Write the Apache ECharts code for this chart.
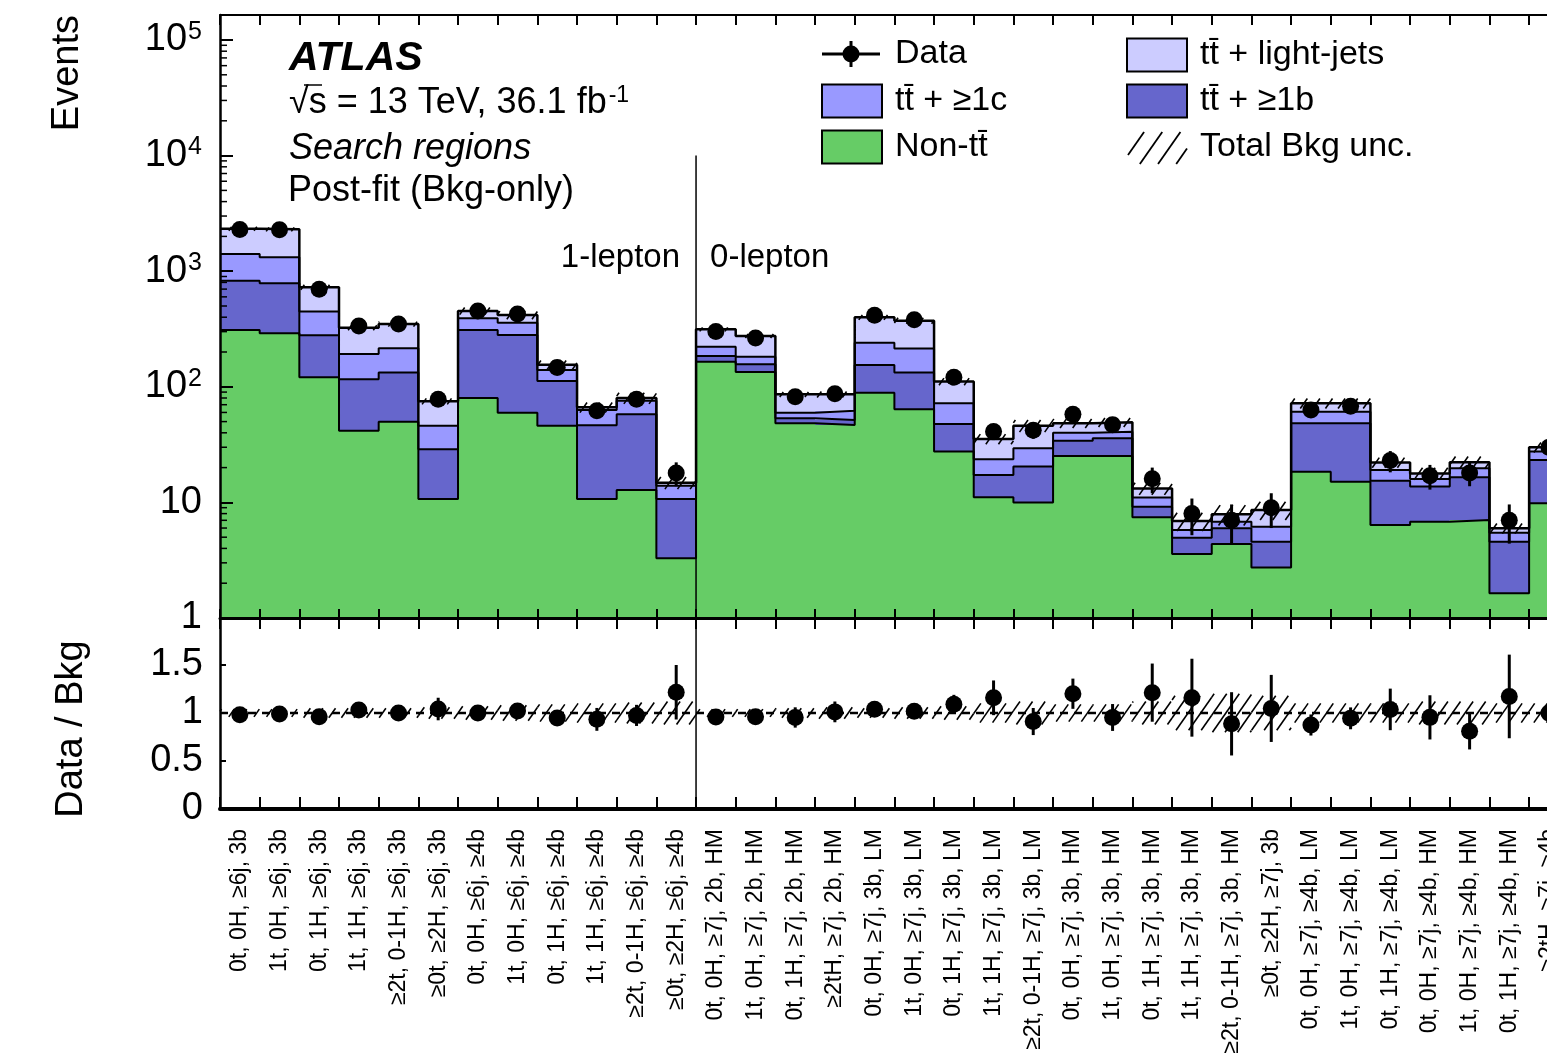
<!DOCTYPE html>
<html>
<head>
<meta charset="utf-8">
<script src="https://cdn.jsdelivr.net/npm/echarts@6/dist/echarts.min.js"></script>
<style>
  html, body { margin: 0; padding: 0; background: #ffffff; }
  #chart { width: 1547px; height: 1060px; }
</style>
</head>
<body>
<div id="chart"></div>
<script>
// ---------------- data ----------------
const regions1L = [
  '0t, 0H, \u22656j, 3b', '1t, 0H, \u22656j, 3b', '0t, 1H, \u22656j, 3b', '1t, 1H, \u22656j, 3b',
  '\u22652t, 0-1H, \u22656j, 3b', '\u22650t, \u22652H, \u22656j, 3b',
  '0t, 0H, \u22656j, \u22654b', '1t, 0H, \u22656j, \u22654b', '0t, 1H, \u22656j, \u22654b', '1t, 1H, \u22656j, \u22654b',
  '\u22652t, 0-1H, \u22656j, \u22654b', '\u22650t, \u22652H, \u22656j, \u22654b'
];
const regions0L = [
  '0t, 0H, \u22657j, 2b, HM', '1t, 0H, \u22657j, 2b, HM', '0t, 1H, \u22657j, 2b, HM', '\u22652tH, \u22657j, 2b, HM',
  '0t, 0H, \u22657j, 3b, LM', '1t, 0H, \u22657j, 3b, LM', '0t, 1H, \u22657j, 3b, LM', '1t, 1H, \u22657j, 3b, LM',
  '\u22652t, 0-1H, \u22657j, 3b, LM', '0t, 0H, \u22657j, 3b, HM', '1t, 0H, \u22657j, 3b, HM', '0t, 1H, \u22657j, 3b, HM',
  '1t, 1H, \u22657j, 3b, HM', '\u22652t, 0-1H, \u22657j, 3b, HM', '\u22650t, \u22652H, \u22657j, 3b',
  '0t, 0H, \u22657j, \u22654b, LM', '1t, 0H, \u22657j, \u22654b, LM', '0t, 1H, \u22657j, \u22654b, LM',
  '0t, 0H, \u22657j, \u22654b, HM', '1t, 0H, \u22657j, \u22654b, HM', '0t, 1H, \u22657j, \u22654b, HM',
  '\u22652tH, \u22657j, \u22654b'
];
const regions = regions1L.concat(regions0L);

// post-fit background yields per region (events)
const nonTtbar = [310, 290, 121, 41.7, 49.9, 10.7, 80, 59.7, 46.1, 10.7, 12.8, 3.28,
                  165, 134, 48.3, 46.7, 89, 63.9, 27.5, 11.1, 10.0, 25.2, 25.2, 7.43, 3.58, 4.37, 2.74, 18.4, 15.1, 6.37, 6.81, 7.04, 1.64, 9.82];
const ttB      = [518, 496, 158, 74.3, 83.1, 18.1, 230, 221, 65.9, 35.8, 45.0, 7.42,
                  20, 23, 5.1, 4.9, 65, 69, 20.2, 6.2, 10.4, 9.0, 10.6, 1.75, 1.37, 1.60, 1.83, 29.9, 33.2, 9.0, 6.9, 9.5, 2.93, 13.5];
const ttC      = [581, 532, 168, 76, 82, 17.3, 81, 78, 28, 16.5, 18, 3.2,
                  37, 25, 6.3, 10.4, 87, 82, 24.3, 6.3, 9.0, 5.9, 5.1, 1.82, 0.82, 0.84, 1.59, 12.6, 12.6, 3.7, 2.2, 3.2, 0.9, 4.2];
const ttLight  = [924, 985, 279, 133, 134, 28.8, 62, 59, 15, 3.4, 4.2, 0.9,
                  92, 93, 26.3, 24, 158, 158, 39, 11.8, 16.7, 8.2, 8.4, 2.2, 1.13, 1.08, 2.43, 11.1, 11.1, 3.1, 1.9, 2.5, 0.5, 2.5];
// relative total background uncertainty
const bkgRelUnc = [0.04, 0.04, 0.05, 0.05, 0.05, 0.06, 0.07, 0.08, 0.09, 0.10, 0.11, 0.12,
                   0.04, 0.04, 0.05, 0.06, 0.05, 0.06, 0.07, 0.10, 0.12, 0.09, 0.09, 0.12, 0.18, 0.20, 0.18, 0.10, 0.10, 0.10, 0.12, 0.12, 0.10, 0.10];
// observed events and their uncertainties
const dataObs = [2290, 2280, 697, 335, 349, 78, 453, 426, 147, 62, 78, 18,
                 301, 264, 82, 87, 415, 380, 121, 41, 42, 58, 47, 16, 8, 7, 9, 63, 68, 23, 17, 18, 7, 30];
const dataErr = [48, 48, 26, 18, 19, 8.8, 21, 21, 12, 7.9, 8.8, 4.2,
                 17, 16, 9.1, 9.3, 20, 19, 11, 6.4, 6.5, 7.6, 6.9, 4.0, 2.8, 2.6, 3.0, 7.9, 8.2, 4.8, 4.1, 4.2, 2.6, 5.5];
const ratioTicks = [0, 0.5, 1, 1.5];

// ---------------- layout ----------------
const FONT = '"Liberation Sans", Arial, Helvetica, sans-serif';
const NB = regions.length;
const BIN = 39.67;
const LEFT = 220;
const TOP_MAIN = 15, H_MAIN = 603;
const TOP_RATIO = 619, H_RATIO = 190;
const DECADE_PX = 115.6;
const YMAX = Math.pow(10, H_MAIN / DECADE_PX);
const RMAX = H_RATIO / 96;
const nSplit = regions1L.length;
const AXIS_FONT = 38;
const TEXT_FONT = 36;

const colNon = '#66cc66', colB = '#6666cc', colC = '#9999ff', colL = '#ccccff';

// cumulative stack boundaries
const cum1 = nonTtbar.slice();
const cum2 = cum1.map((v, i) => v + ttB[i]);
const cum3 = cum2.map((v, i) => v + ttC[i]);
const total = cum3.map((v, i) => v + ttLight[i]);
const ones = total.map(() => 1);

// ---------------- helpers ----------------
function hatchSegments(x0, y0, x1, y1, gap, slope) {
  // lines  y = c - slope * x  (rising to the right)
  const segs = [];
  const cMin = y0 + slope * x0, cMax = y1 + slope * x1;
  for (let c = Math.ceil(cMin / gap) * gap; c <= cMax; c += gap) {
    const xa = Math.max(x0, (c - y1) / slope);
    const xb = Math.min(x1, (c - y0) / slope);
    if (xb <= xa) continue;
    segs.push([xa, c - slope * xa, xb, c - slope * xb]);
  }
  return segs;
}
function hatchGroup(segs, width) {
  return {
    type: 'group',
    children: segs.map(s => ({
      type: 'line',
      shape: { x1: s[0], y1: s[1], x2: s[2], y2: s[3] },
      style: { stroke: '#000', lineWidth: width }
    }))
  };
}

function layerSeries(lower, upper, color, name) {
  return {
    type: 'custom', name: name, xAxisIndex: 0, yAxisIndex: 0, z: 2,
    data: [[0, 1]], encode: { x: 0, y: 1 }, silent: true,
    renderItem: function (params, api) {
      const pts = [];
      for (let i = 0; i < NB; i++) {
        pts.push(api.coord([i, upper[i]]), api.coord([i + 1, upper[i]]));
      }
      for (let i = NB - 1; i >= 0; i--) {
        pts.push(api.coord([i + 1, lower[i]]), api.coord([i, lower[i]]));
      }
      return { type: 'polygon', shape: { points: pts }, style: { fill: color, stroke: null } };
    }
  };
}

function stepPoints(vals) {
  const pts = [];
  vals.forEach((v, i) => { pts.push([i, v]); pts.push([i + 1, v]); });
  return pts;
}
function outlineSeries(vals, width) {
  return {
    type: 'line', xAxisIndex: 0, yAxisIndex: 0, z: 3, silent: true,
    data: stepPoints(vals), symbol: 'none', animation: false,
    lineStyle: { color: '#000', width: width }
  };
}

function errorBarSeries(xIdx, yIdx, items) {
  return {
    type: 'custom', xAxisIndex: xIdx, yAxisIndex: yIdx, z: 6, silent: true,
    data: items, encode: { x: 0, y: [1, 2] },
    renderItem: function (params, api) {
      const a = api.coord([api.value(0), api.value(1)]);
      const b = api.coord([api.value(0), api.value(2)]);
      return { type: 'line', shape: { x1: a[0], y1: a[1], x2: b[0], y2: b[1] }, style: { stroke: '#000', lineWidth: 3 } };
    }
  };
}

function bandHatchSeries(xIdx, yIdx, items) {
  return {
    type: 'custom', xAxisIndex: xIdx, yAxisIndex: yIdx, z: 4, silent: true,
    data: items, encode: { x: 0, y: [1, 2] },
    renderItem: function (params, api) {
      const i = api.value(0);
      const p0 = api.coord([i, api.value(2)]);
      const p1 = api.coord([i + 1, api.value(1)]);
      return hatchGroup(hatchSegments(p0[0], p0[1], p1[0], p1[1], 18, 1.43), 1.6);
    }
  };
}

function markerSeries(xIdx, yIdx, items) {
  return {
    type: 'scatter', xAxisIndex: xIdx, yAxisIndex: yIdx, z: 7, silent: true,
    symbol: 'circle', symbolSize: 17, itemStyle: { color: '#000', opacity: 1 },
    data: items
  };
}

// log-axis minor tick values (2..9 x 10^k)
const minorTicks = [];
for (let k = 0; k <= 5; k++) {
  for (let m = 2; m <= 9; m++) {
    const v = m * Math.pow(10, k);
    if (v < YMAX) minorTicks.push([0, v]);
  }
}

// ---------------- option ----------------
const valueX = (grid, pos, lineW, tickLen) => ({
  gridIndex: grid, type: 'value', min: 0, max: NB, interval: 1, position: pos, z: 10,
  axisLine: { show: true, onZero: false, lineStyle: { color: '#000', width: lineW } },
  axisTick: { show: true, inside: true, length: tickLen, lineStyle: { color: '#000', width: 2 } },
  axisLabel: { show: false }, splitLine: { show: false }
});

const option = {
  animation: false,
  backgroundColor: '#ffffff',
  grid: [
    { left: LEFT, top: TOP_MAIN, width: NB * BIN, height: H_MAIN, containLabel: false, outerBoundsMode: 'none' },
    { left: LEFT, top: TOP_RATIO, width: NB * BIN, height: H_RATIO, containLabel: false, outerBoundsMode: 'none' }
  ],
  xAxis: [
    valueX(0, 'bottom', 3, 9),
    valueX(0, 'top', 2, 10),
    valueX(1, 'bottom', 4, 12),
    valueX(1, 'top', 2, 10),
    {
      gridIndex: 1, type: 'category', data: regions, position: 'bottom', z: 10,
      axisLine: { show: false }, axisTick: { show: false }, splitLine: { show: false },
      axisLabel: { interval: 0, rotate: 90, margin: 20, fontSize: 23, color: '#000', fontFamily: FONT }
    }
  ],
  yAxis: [
    {
      gridIndex: 0, type: 'log', logBase: 10, min: 1, max: YMAX, position: 'left', z: 10,
      axisLine: { show: true, lineStyle: { color: '#000', width: 2.5 } },
      axisTick: { show: true, inside: true, length: 13, lineStyle: { color: '#000', width: 2 } },
      splitLine: { show: false },
      axisLabel: {
        margin: 18, showMaxLabel: false, color: '#000', fontSize: AXIS_FONT, fontFamily: FONT,
        formatter: function (v) {
          const p = Math.round(Math.log10(v));
          if (Math.abs(Math.log10(v) - p) > 1e-6) return '';
          if (p === 0) return '1';
          if (p === 1) return '10';
          return '10{s|' + p + '}';
        },
        rich: { s: { fontSize: 25, fontFamily: FONT, color: '#000', verticalAlign: 'top', padding: [0, 0, 16, 1] } }
      }
    },
    {
      gridIndex: 1, type: 'value', min: 0, max: RMAX, interval: 0.5, position: 'left', z: 10,
      axisLine: { show: true, onZero: false, lineStyle: { color: '#000', width: 2.5 } },
      axisTick: { show: true, inside: true, length: 6, lineStyle: { color: '#000', width: 2 } },
      splitLine: { show: false },
      axisLabel: {
        margin: 17, showMaxLabel: false, color: '#000', fontSize: AXIS_FONT, fontFamily: FONT,
        formatter: v => (ratioTicks.indexOf(v) >= 0 ? String(v) : '')
      }
    }
  ],
  series: [
    // stacked background fills
    layerSeries(ones, cum1, colNon, 'Non-ttbar'),
    layerSeries(cum1, cum2, colB, 'tt+>=1b'),
    layerSeries(cum2, cum3, colC, 'tt+>=1c'),
    layerSeries(cum3, total, colL, 'tt+light'),
    // histogram outlines
    outlineSeries(cum1, 2),
    outlineSeries(cum2, 2),
    outlineSeries(cum3, 2),
    outlineSeries(total, 2.5),
    // background uncertainty around the total
    bandHatchSeries(0, 0, total.map((t, i) => [i, t * (1 - bkgRelUnc[i]), t * (1 + bkgRelUnc[i])])),
    // channel divider
    {
      type: 'line', xAxisIndex: 0, yAxisIndex: 0, z: 5, silent: true, symbol: 'none',
      data: [[nSplit, 1e4], [nSplit, 1]], lineStyle: { color: '#000', width: 1.5 }
    },
    // log minor ticks
    {
      type: 'custom', xAxisIndex: 0, yAxisIndex: 0, z: 11, silent: true,
      data: minorTicks, encode: { x: 0, y: 1 },
      renderItem: function (params, api) {
        const p = api.coord([api.value(0), api.value(1)]);
        return { type: 'line', shape: { x1: p[0], y1: p[1], x2: p[0] + 7, y2: p[1] }, style: { stroke: '#000', lineWidth: 1.5 } };
      }
    },
    // data
    errorBarSeries(0, 0, dataObs.map((d, i) => [i + 0.5, d - dataErr[i], d + dataErr[i]])),
    markerSeries(0, 0, dataObs.map((d, i) => [i + 0.5, d])),

    // ----- ratio panel -----
    bandHatchSeries(2, 1, bkgRelUnc.map((u, i) => [i, 1 - u, 1 + u])),
    {
      type: 'line', xAxisIndex: 2, yAxisIndex: 1, z: 3, silent: true, symbol: 'none',
      data: [[0, 1], [NB, 1]], lineStyle: { color: '#000', width: 2.5, type: [8, 6] }
    },
    {
      type: 'line', xAxisIndex: 2, yAxisIndex: 1, z: 5, silent: true, symbol: 'none',
      data: [[nSplit, 0], [nSplit, RMAX]], lineStyle: { color: '#000', width: 1.5 }
    },
    errorBarSeries(2, 1, dataObs.map((d, i) => [i + 0.5, (d - dataErr[i]) / total[i], (d + dataErr[i]) / total[i]])),
    markerSeries(2, 1, dataObs.map((d, i) => [i + 0.5, d / total[i]]))
  ]
};

// ---------------- annotations and legend ----------------
const txt = (x, y, text, extra) => Object.assign({
  type: 'text', x: x, y: y, z: 100, silent: true,
  style: Object.assign({ text: text, fill: '#000', fontSize: 34, fontFamily: FONT, align: 'left', verticalAlign: 'middle' }, extra || {})
});
const divX = LEFT + nSplit * BIN;

const legendBoxes = [
  { x: 822, y: 101, color: colC, label: 'tt\u0304 + \u22651c' },
  { x: 822, y: 147, color: colNon, label: 'Non-tt\u0304' },
  { x: 1127, y: 55, color: colL, label: 'tt\u0304 + light-jets' },
  { x: 1127, y: 101, color: colB, label: 'tt\u0304 + \u22651b' }
];

const graphics = [
  // axis titles
  Object.assign(txt(68, 15, 'Events', { align: 'right', fontSize: AXIS_FONT }), { rotation: Math.PI / 2 }),
  Object.assign(txt(72, 729, 'Data / Bkg', { align: 'center', fontSize: AXIS_FONT }), { rotation: Math.PI / 2 }),
  // labels
  txt(289, 59, 'ATLAS', { fontWeight: 'bold', fontStyle: 'italic', fontSize: 41 }),
  txt(289, 103, '\u221As = 13 TeV, 36.1 fb{sup|-1}', {
    fontSize: TEXT_FONT,
    rich: { sup: { fontSize: 23, fontFamily: FONT, fill: '#000', verticalAlign: 'top', padding: [0, 0, 14, 2] } }
  }),
  { type: 'line', z: 100, silent: true, shape: { x1: 304, y1: 85, x2: 322, y2: 85 }, style: { stroke: '#000', lineWidth: 1.5 } },
  txt(289, 149, 'Search regions', { fontStyle: 'italic', fontSize: TEXT_FONT }),
  txt(288, 191, 'Post-fit (Bkg-only)', { fontSize: TEXT_FONT }),
  txt(divX - 16, 258, '1-lepton', { align: 'right', fontSize: 33 }),
  txt(divX + 14, 258, '0-lepton', { fontSize: 33 }),
  // legend: data marker
  { type: 'line', z: 100, silent: true, shape: { x1: 822, y1: 54, x2: 880, y2: 54 }, style: { stroke: '#000', lineWidth: 3 } },
  { type: 'line', z: 100, silent: true, shape: { x1: 851, y1: 41, x2: 851, y2: 67 }, style: { stroke: '#000', lineWidth: 3 } },
  { type: 'circle', z: 101, silent: true, shape: { cx: 851, cy: 54, r: 8.5 }, style: { fill: '#000' } },
  txt(895, 54, 'Data'),
  // legend: hatch
  hatchGroup(hatchSegments(1128, 132, 1187, 164, 26, 1.43), 1.8),
  txt(1200, 147, 'Total Bkg unc.')
];
legendBoxes.forEach(b => {
  graphics.push({
    type: 'rect', z: 100, silent: true,
    shape: { x: b.x, y: b.y - 16.5, width: 60, height: 33 },
    style: { fill: b.color, stroke: '#000', lineWidth: 2 }
  });
  graphics.push(txt(b.x + 73, b.y, b.label));
});
option.graphic = { elements: graphics };

const chart = echarts.init(document.getElementById('chart'), null, { renderer: 'canvas' });
chart.setOption(option);
</script>
</body>
</html>
